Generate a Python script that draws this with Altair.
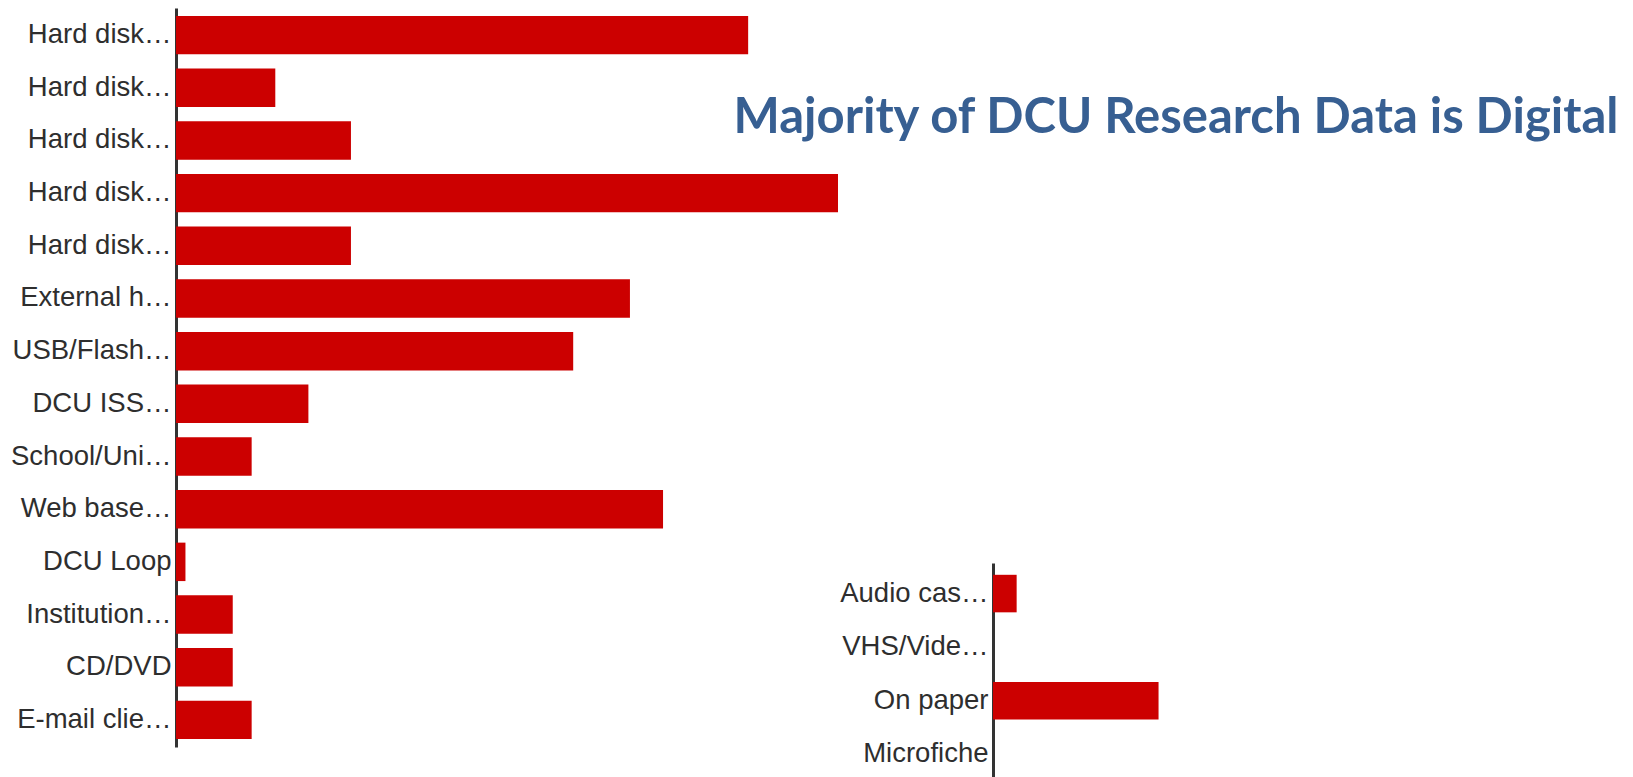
import json
import altair as alt
import pandas as pd

# ---- data ----
left_labels = ["Hard disk…", "Hard disk…", "Hard disk…", "Hard disk…", "Hard disk…",
               "External h…", "USB/Flash…", "DCU ISS…", "School/Uni…", "Web base…",
               "DCU Loop", "Institution…", "CD/DVD", "E-mail clie…"]
left_values = [121, 21, 37, 140, 37, 96, 84, 28, 16, 103, 2, 12, 12, 16]

right_labels = ["Audio cas…", "VHS/Vide…", "On paper", "Microfiche"]
right_values = [5, 0, 35, 0]

title_text = ["Majority of DCU Research Data is Digital"]

BAR = "#CC0000"
TXT = "#2E2E2E"
TITLE_COLOR = "#375F92"

left_df = pd.DataFrame({"idx": list(range(len(left_labels))), "value": left_values})
right_df = pd.DataFrame({"idx": list(range(len(right_labels))), "value": right_values})
title_df = pd.DataFrame({"text": title_text})


def yaxis(labels):
    return alt.Axis(
        title=None, ticks=False, tickSize=0, grid=False,
        domain=True, domainColor="#333333", domainWidth=3,
        labelFont="Liberation Sans", labelFontSize=27.5, labelColor=TXT,
        labelPadding=5, labelLimit=400,
        labelExpr=json.dumps(labels, ensure_ascii=False) + "[datum.value]",
    )


left = alt.Chart(left_df).mark_bar(color=BAR).encode(
    y=alt.Y("idx:O", sort=None, axis=yaxis(left_labels),
            scale=alt.Scale(paddingInner=0.27, paddingOuter=0.15)),
    x=alt.X("value:Q", axis=None, scale=alt.Scale(domain=[0, 140])),
).properties(width=662, height=739)

right = alt.Chart(right_df).mark_bar(color=BAR).encode(
    y=alt.Y("idx:O", sort=None, axis=yaxis(right_labels),
            scale=alt.Scale(paddingInner=0.3, paddingOuter=0.22)),
    x=alt.X("value:Q", axis=None, scale=alt.Scale(domain=[0, 100])),
).properties(width=473, height=222)

title = alt.Chart(title_df).mark_text(
    font="Lato", fontWeight="bold", fontSize=49, color=TITLE_COLOR,
    align="center", baseline="alphabetic",
).encode(
    text="text:N",
    x=alt.value(183),
    y=alt.value(125),
).properties(width=473, height=555)

right_col = alt.vconcat(title, right, spacing=0, bounds="flush")

chart = alt.hconcat(left, right_col, spacing=155, bounds="flush").properties(
    padding={"left": 2, "top": 0, "right": 0, "bottom": 0}
).configure(background="white").configure_view(stroke=None, strokeWidth=0)

chart.save("out.html", embed_options={"renderer": "svg", "actions": False})
